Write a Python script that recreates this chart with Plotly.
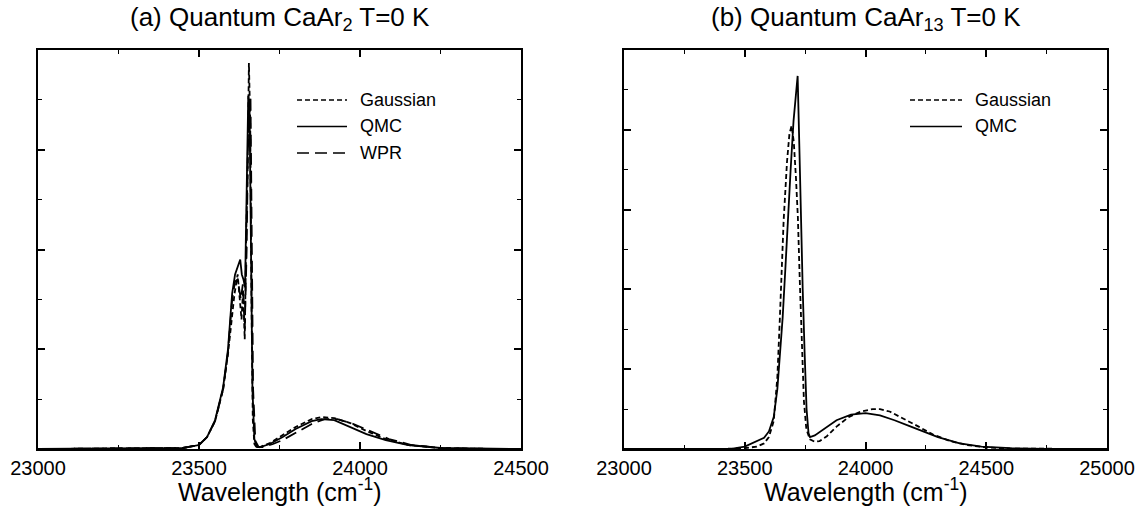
import plotly.graph_objects as go

# ---------------- Panel (a): CaAr2 ----------------
a_gauss_x = [23000, 23400, 23450, 23500, 23525, 23550, 23575, 23590, 23600, 23610, 23620, 23627, 23632,
             23637, 23642, 23647, 23651, 23655, 23659, 23663, 23667, 23672, 23680, 23690, 23720, 23760,
             23800, 23850, 23880, 23920, 23970, 24020, 24080, 24150, 24250, 24350, 24500]
a_gauss_y = [0, 0.005, 0.01, 0.04, 0.12, 0.28, 0.6, 0.95, 1.25, 1.55, 1.75, 1.5, 1.3,
             1.6, 1.1, 2.2, 2.8, 3.87, 3.3, 1.5, 0.3, 0.05, 0.01, 0.02, 0.06, 0.14,
             0.22, 0.3, 0.32, 0.31, 0.26, 0.18, 0.1, 0.04, 0.01, 0.003, 0]

a_qmc_x = [23000, 23400, 23450, 23500, 23525, 23550, 23575, 23590, 23603, 23612, 23620, 23628, 23633,
           23638, 23643, 23648, 23653, 23657, 23661, 23666, 23672, 23680, 23690, 23720, 23760, 23800,
           23850, 23880, 23920, 23970, 24020, 24080, 24150, 24250, 24350, 24500]
a_qmc_y = [0, 0.005, 0.01, 0.04, 0.12, 0.29, 0.62, 1.0, 1.56, 1.75, 1.82, 1.9, 1.75,
           1.7, 1.62, 2.5, 3.54, 3.4, 2.0, 0.6, 0.1, 0.02, 0.02, 0.05, 0.12, 0.2,
           0.28, 0.3, 0.29, 0.22, 0.15, 0.09, 0.04, 0.01, 0.003, 0]

a_wpr_x = [23000, 23400, 23450, 23500, 23525, 23550, 23575, 23590, 23603, 23612, 23620, 23630, 23636,
           23642, 23648, 23652, 23656, 23660, 23663, 23668, 23675, 23685, 23700, 23730, 23760, 23800,
           23850, 23890, 23930, 23980, 24030, 24090, 24160, 24250, 24350, 24500]
a_wpr_y = [0, 0.005, 0.01, 0.04, 0.12, 0.28, 0.6, 0.97, 1.5, 1.68, 1.7, 1.5, 1.65,
           1.2, 2.0, 3.0, 3.5, 3.52, 2.5, 0.6, 0.08, 0.02, 0.02, 0.05, 0.09, 0.16,
           0.25, 0.3, 0.3, 0.25, 0.18, 0.1, 0.04, 0.01, 0.003, 0]

# ---------------- Panel (b): CaAr13 ----------------
b_gauss_x = [23000, 23400, 23500, 23550, 23580, 23600, 23620, 23635, 23645, 23661, 23675, 23685, 23694,
             23703, 23712, 23720, 23728, 23736, 23745, 23755, 23770, 23790, 23810, 23840, 23880, 23930,
             23980, 24030, 24060, 24100, 24160, 24220, 24280, 24350, 24420, 24500, 24600, 24750, 25000]
b_gauss_y = [0, 0, 0.01, 0.03, 0.07, 0.15, 0.35, 0.9, 1.61, 2.86, 3.6, 3.95, 4.05,
             3.85, 3.4, 2.9, 2.1, 1.3, 0.6, 0.25, 0.12, 0.09, 0.1, 0.16, 0.28, 0.4,
             0.47, 0.5, 0.5, 0.47, 0.38, 0.28, 0.18, 0.1, 0.05, 0.02, 0.005, 0, 0]

b_qmc_x = [23000, 23450, 23500, 23540, 23580, 23600, 23620, 23635, 23645, 23657, 23668, 23678, 23690,
           23702, 23712, 23719, 23726, 23733, 23740, 23748, 23756, 23764, 23770, 23790, 23830, 23880,
           23940, 24000, 24060, 24120, 24180, 24230, 24300, 24390, 24480, 24600, 24750, 25000]
b_qmc_y = [0, 0.005, 0.03, 0.08, 0.14, 0.22, 0.4, 0.75, 1.15, 1.65, 2.25, 2.86, 3.5,
           4.11, 4.45, 4.675, 3.8, 2.8, 2.0, 1.2, 0.5, 0.2, 0.15, 0.17, 0.25, 0.36,
           0.43, 0.45, 0.42, 0.36, 0.29, 0.23, 0.15, 0.07, 0.03, 0.01, 0, 0]

legend_a = ["Gaussian", "QMC", "WPR"]
legend_b = ["Gaussian", "QMC"]
titles = ["(a) Quantum CaAr<sub>2</sub> T=0 K", "(b) Quantum CaAr<sub>13</sub> T=0 K"]
xlabel = "Wavelength (cm<sup>-1</sup>)"

FONT = "Liberation Sans, Arial, sans-serif"
LW = 1.8
SHORT = "5px,3px"
LONG = "12px,6px"
DASHES = ["5px,3px", "solid", "12px,6px"]

fig = go.Figure()
fig.add_trace(go.Scatter(x=a_gauss_x, y=a_gauss_y, mode="lines", name=legend_a[0],
                         line=dict(color="black", width=LW, dash=SHORT), xaxis="x", yaxis="y"))
fig.add_trace(go.Scatter(x=a_qmc_x, y=a_qmc_y, mode="lines", name=legend_a[1],
                         line=dict(color="black", width=LW), xaxis="x", yaxis="y"))
fig.add_trace(go.Scatter(x=a_wpr_x, y=a_wpr_y, mode="lines", name=legend_a[2],
                         line=dict(color="black", width=LW, dash=LONG), xaxis="x", yaxis="y"))
fig.add_trace(go.Scatter(x=b_gauss_x, y=b_gauss_y, mode="lines", name=legend_b[0],
                         line=dict(color="black", width=LW, dash=SHORT), xaxis="x2", yaxis="y2"))
fig.add_trace(go.Scatter(x=b_qmc_x, y=b_qmc_y, mode="lines", name=legend_b[1],
                         line=dict(color="black", width=LW), xaxis="x2", yaxis="y2"))

L, R, T, B = 38, 33, 50, 58
W, H = 1140, 507
pw = W - L - R
ph = H - T - B
da = [0, (521 - L) / pw]
db = [(624 - L) / pw, 1]


def px_x(px):
    return (px - L) / pw


def px_y(py):
    return (H - B - py) / ph


common_x = dict(showgrid=False, zeroline=False, showline=True, linecolor="black", linewidth=2,
                mirror="allticks", ticks="inside", ticklen=7, tickwidth=1.5, tickcolor="black",
                tickfont=dict(family=FONT, size=20, color="black"), dtick=500, tickformat="d",
                automargin=False,
                minor=dict(ticks="inside", ticklen=4, tickwidth=1.2, tickcolor="black", dtick=250))
common_y = dict(showgrid=False, zeroline=False, showline=True, linecolor="black", linewidth=2,
                mirror="allticks", ticks="inside", ticklen=7, tickwidth=1.5, tickcolor="black",
                showticklabels=False, dtick=1, automargin=False,
                minor=dict(ticks="inside", ticklen=4, tickwidth=1.2, tickcolor="black", dtick=0.5))

shapes = []
annotations = []
# manual legends (sample line + label)
for items, x0, x1, xt in [(legend_a, 297, 347, 358), (legend_b, 910, 962, 973)]:
    for i, name in enumerate(items):
        py = 100 + i * 26.5
        dash = DASHES[i]
        shapes.append(dict(type="line", xref="paper", yref="paper", x0=px_x(x0), x1=px_x(x1),
                           y0=px_y(py), y1=px_y(py), line=dict(color="black", width=1.6, dash=dash)))
        annotations.append(dict(text=name, x=px_x(xt), y=px_y(py), xref="paper", yref="paper",
                                xanchor="left", yanchor="middle", showarrow=False,
                                font=dict(family=FONT, size=18, color="black")))

for t, d in zip(titles, [da, db]):
    annotations.append(dict(text=t, x=(d[0] + d[1]) / 2, y=px_y(18), xref="paper", yref="paper",
                            xanchor="center", yanchor="middle", showarrow=False,
                            font=dict(family=FONT, size=26, color="black")))
    annotations.append(dict(text=xlabel, x=(d[0] + d[1]) / 2, y=px_y(507), xref="paper", yref="paper",
                            xanchor="center", yanchor="bottom", showarrow=False, yshift=-1,
                            font=dict(family=FONT, size=25, color="black")))

fig.update_layout(
    width=W, height=H, margin=dict(l=L, r=R, t=T, b=B),
    paper_bgcolor="white", plot_bgcolor="white",
    font=dict(family=FONT, color="black"),
    showlegend=False,
    xaxis=dict(domain=da, range=[23000, 24500], anchor="y", tick0=23000, **common_x),
    yaxis=dict(domain=[0, 1], range=[0, 4], anchor="x", **common_y),
    xaxis2=dict(domain=db, range=[23000, 25000], anchor="y2", tick0=23000, **common_x),
    yaxis2=dict(domain=[0, 1], range=[0, 5], anchor="x2", **common_y),
    shapes=shapes,
    annotations=annotations,
)

fig.write_html("out.html")
